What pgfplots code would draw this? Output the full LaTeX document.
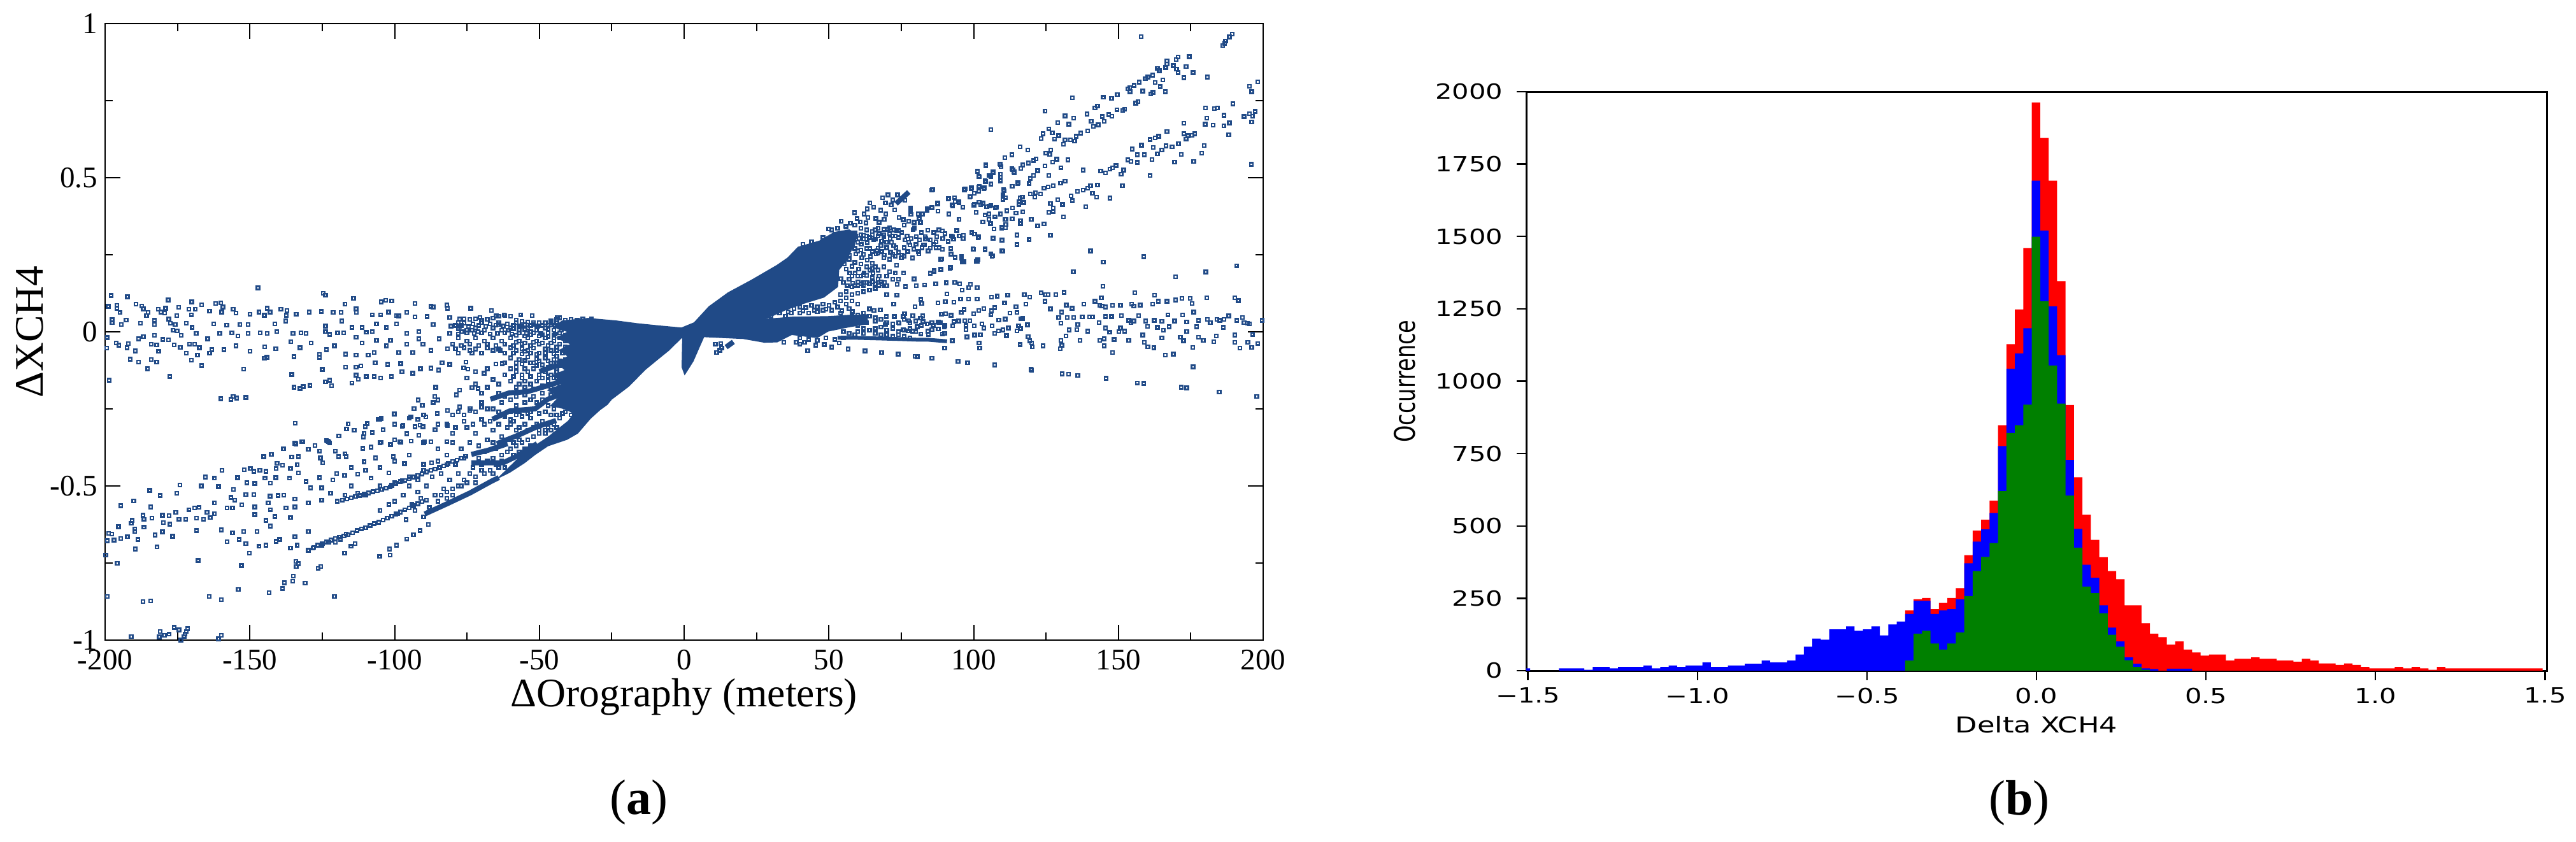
\documentclass[border=0pt]{standalone}
\usepackage{graphicx}
\usepackage{fontspec}
\usepackage{pgfplots}
\pgfplotsset{compat=1.18}
\newfontfamily\lib{Liberation Serif}
\newfontfamily\dv{DejaVu Sans}
\definecolor{pts}{RGB}{32,74,135}
\definecolor{hgreen}{RGB}{0,128,0}
\newcommand\sx[1]{\scalebox{1.27}[1]{\dv\fontsize{8.2}{8.2}\selectfont #1}}
\begin{document}
\begin{tikzpicture}
\path[use as bounding box] (0pt,0pt) rectangle (1011pt,330.25pt);
\begin{axis}[
  at={(41.25pt,79pt)}, anchor=south west, scale only axis, width=454.5pt, height=242.1pt,
  xmin=-200, xmax=200, ymin=-1, ymax=1,
  xtick={-200,-150,-100,-50,0,50,100,150,200},
  xticklabels={-200,-150,-100,-50,0,50,100,150,200},
  ytick={-1,-0.5,0,0.5,1},
  yticklabels={-1,-0.5,0,0.5,1},
  minor x tick num=1, minor y tick num=1,
  tick align=inside, major tick length=6pt, minor tick length=3.1pt,
  tick style={black,line width=0.5pt}, axis line style={black,line width=0.5pt},
  tick label style={font=\lib\fontsize{11.75}{11.75}\selectfont},
  xticklabel style={inner ysep=0pt,yshift=-3.5pt},
  yticklabel style={inner xsep=0pt,xshift=-2.75pt},
  xlabel={ΔOrography (meters)}, ylabel={ΔXCH4},
  every axis x label/.style={at={(axis description cs:0.5,-0.0925)},anchor=center,font=\lib\fontsize{15.9}{15.9}\selectfont},
  every axis y label/.style={at={(axis description cs:-0.065,0.5)},anchor=center,rotate=90,font=\lib\fontsize{15.9}{15.9}\selectfont},
]
% dense wedges outlined from the picture
\addplot[fill=pts,draw=pts,line width=0.4pt] coordinates {(-42,.035)(-33.2,.043)(-23.6,.035)(-16.3,.026)(-9,.019)(-.9,.012)(-.9,-.019)(-5.3,-.06)(-9,-.088)(-13.4,-.122)(-19.2,-.177)(-25.1,-.219)(-26.6,-.236)(-29.1,-.253)(-32.4,-.281)(-36.8,-.329)(-40.5,-.349)(-47.1,-.37)(-51.5,-.398)(-55.2,-.425)(-60.3,-.456)(-64,-.473)(-60.3,-.439)(-56.6,-.405)(-51.5,-.37)(-47.1,-.343)(-44,-.32)(-40,-.29)(-38,-.265)(-41,-.25)(-46,-.24)(-43,-.21)(-47,-.19)(-42,-.17)(-45,-.14)(-41,-.125)(-44,-.1)(-40,-.08)(-43,-.06)(-39,-.04)(-44,-.02)(-40,0)(-45,.015)} -- cycle;
\addplot[fill=pts,draw=pts,line width=0.4pt] coordinates {(-.5,-.019)(-.7,-.115)(.2,-.138)(1.3,-.122)(3.1,-.095)(5,-.054)(6.8,-.016)} -- cycle;
\addplot[fill=pts,draw=pts,line width=0.4pt] coordinates {(-.9,.012)(3.5,.029)(8.6,.081)(15.2,.126)(23.3,.167)(32.1,.215)(35.8,.239)(39.4,.274)(46.8,.294)(51.9,.322)(57,.33)(60,.315)(58,.27)(56,.23)(53.4,.201)(53,.146)(48.2,.112)(40.9,.091)(35,.071)(27.7,.04)(27.7,-.034)(20.4,-.022)(6.8,-.016)(-.9,-.019)} -- cycle;
\addplot[fill=pts,draw=pts,line width=0.4pt] coordinates {(27.7,.04)(37.2,.047)(49.7,.049)(57,.053)(63,.055)(63.5,.026)(57,.016)(49.7,.002)(46,-.019)(37.2,-.009)(32.1,-.033)(27.7,-.034)} -- cycle;
% streaks
\addplot[pts,line width=1.5pt] coordinates {(53,-.02)(60,-.02)(68,-.022)(75,-.024)(81,-.026)(84.2,-.026)(90.8,-.031)};
\addplot[pts,line width=2pt] coordinates {(73.2,.415)(77.6,.453)};
\addplot[pts,line width=2pt] coordinates {(14.5,-.05)(17,-.033)};
\addplot[pts,line width=2pt] coordinates {(-64,-.473)(-66.4,-.484)(-74,-.523)(-81.9,-.558)(-89.6,-.591)};
\addplot[pts,line width=2pt] coordinates {(-66.9,-.219)(-60.3,-.198)(-54.4,-.195)(-47.8,-.177)(-41.2,-.157)(-36.8,-.143)};
\addplot[pts,line width=2pt] coordinates {(-66.2,-.284)(-60.3,-.257)(-51.5,-.25)(-47.1,-.219)(-41.2,-.198)};
\addplot[pts,line width=2pt] coordinates {(-64.7,-.363)(-57.4,-.336)(-50.8,-.308)(-44.2,-.288)};
\addplot[pts,line width=2pt] coordinates {(-73.5,-.398)(-67.6,-.384)(-61,-.363)};
\addplot[pts,line width=2pt] coordinates {(-73.5,-.425)(-62.5,-.425)(-58.1,-.405)(-50.8,-.363)};
\addplot[pts,line width=2pt] coordinates {(-50,-.129)(-45.6,-.115)(-40.5,-.102)};
% scattered points
\addplot[only marks,mark=square,mark size=0.62pt,mark options={pts,line width=0.6pt}] coordinates {
(157.8,.957)(186,.928)(186.7,.935)(187,.942)(188.3,.956)(189.3,.965)(170.6,.891)(174.5,.892)(170,.882)(166.8,.878)(166.8,.868)(169,.863)(173.4,.86)(163.5,.854)(164.1,.846)(166.3,.857)(170.1,.852)(170.6,.84)(175.8,.84)(172.6,.824)(180.8,.826)(161.8,.832)(160.2,.826)(159.3,.82)(165.3,.816)(162.7,.808)(157.2,.809)(155.4,.799)(153.9,.792)(153.3,.787)(164.4,.795)(158.4,.78)(166.2,.778)(161.9,.776)(161.2,.771)(149.6,.769)(154,.778)(144.8,.76)(134.1,.759)(147.6,.757)(156.8,.746)(156,.741)(142.8,.732)(141.9,.725)(152.1,.722)(151.5,.717)(149.5,.72)(124.7,.715)(139.2,.706)(146.6,.704)(147.7,.699)(144.4,.698)(131.6,.7)(134.5,.693)(140.6,.682)(145.1,.682)(129,.678)(132.9,.673)(143,.671)(141.3,.666)(105.9,.655)(139.4,.651)(125.9,.658)(137,.644)(135.4,.634)(124,.642)(127.2,.645)(129.4,.636)(123.3,.626)(128,.625)(131.6,.622)(133.4,.622)(134.9,.618)(131,.608)(116.1,.599)(118.7,.589)(113.2,.574)(110.8,.564)(126.6,.589)(125,.579)(126.3,.575)(128.7,.559)(127.3,.55)(121.5,.56)(120.7,.555)(118.9,.547)(117,.541)(132.5,.557)(124.6,.538)(130.2,.532)(104.2,.539)(109.2,.542)(116.3,.529)(113.5,.525)(122.1,.522)(101.3,.519)(106.7,.516)(114.1,.516)(120.7,.507)(125.9,.507)(119.6,.497)(109.2,.511)(101.9,.502)(105.9,.502)(109.2,.489)(104.1,.487)(131.6,.488)(130,.482)(127.5,.474)(125.8,.47)(124.3,.465)(115.2,.481)(119.2,.481)(106,.478)(101.9,.469)(103.5,.464)(96.8,.46)(85.6,.459)(99.1,.463)(110.5,.457)(123.1,.447)(121.4,.451)(119.6,.447)(121.1,.436)(98.7,.437)(110.1,.439)(91.2,.43)(116.7,.437)(115.7,.421)(117.3,.419)(93.6,.422)(95,.419)(87.6,.415)(92.8,.408)(100.1,.41)(102.4,.412)(107.5,.401)(104.5,.405)(105.9,.41)(126.5,.416)(129,.428)(130.7,.413)(127.5,.401)(127.5,.39)(126,.387)(134.1,.425)(133.7,.441)(135.9,.455)(137.9,.459)(139.4,.465)(140.4,.474)(142.8,.476)(141,.449)(142.5,.436)(147.1,.433)(138.7,.406)(131,.372)(126.5,.312)(151.4,.474)(137.8,.524)(143.9,.521)(145.5,.515)(147.1,.527)(148,.531)(149.2,.539)(150.9,.511)(151.8,.524)(153.2,.557)(154.3,.552)(156.5,.574)(154.8,.592)(156.5,.549)(159,.574)(158,.605)(161.6,.558)(160.9,.506)(162.1,.598)(163.5,.577)(165,.589)(166.5,.603)(168.5,.599)(170.7,.61)(171.7,.575)(169.4,.55)(176,.552)(178.8,.579)(179.6,.604)(173.4,.625)(175.5,.637)(176.4,.642)(172.6,.642)(174,.636)(166.8,.649)(163.9,.634)(162.7,.628)(161,.623)(172.6,.676)(188.1,.639)(180,.673)(182.7,.67)(186.4,.668)(188.3,.677)(180.5,.693)(186.5,.702)(180.1,.725)(183.1,.723)(184.2,.726)(189.5,.739)(195.3,.707)(197.2,.714)(193.4,.698)(196.3,.699)(196,.68)(195.9,.543)(195.3,.796)(196,.778)(198.1,.81)
(140.4,.262)(158.7,.243)(144.8,.226)(190.8,.214)(134.4,.195)(180.2,.194)(169.7,.178)(144.7,.147)(106,.253)(106.4,.244)(110,.261)(99.9,.267)(104,.266)(96,.226)(101.2,.229)(91.9,.205)(88.7,.202)(86.4,.196)(85,.189)(75.8,.19)(79.4,.17)(88.7,.235)(93.6,.242)(92.2,.25)(95.8,.239)(114.9,.313)(119.2,.299)(114.9,.281)(109.8,.296)(106.7,.303)(101.6,.304)
(70.4,.444)(73.7,.444)(68.5,.434)(64.2,.418)(72.1,.427)(69.5,.418)(71.5,.411)(65.5,.404)(63.2,.398)(72.7,.395)(58.8,.386)(62.2,.382)(67.9,.394)(69.6,.382)(59.7,.367)(63.5,.37)(66.2,.367)(69.1,.364)(54.3,.358)(57.4,.352)(60.9,.356)(62.8,.353)(49.9,.333)(55.9,.342)(67.3,.355)(74.3,.37)(75.7,.363)(77.6,.358)(79.4,.355)(81.6,.355)(81.2,.367)(82.3,.382)(80.9,.382)(78.3,.38)(78.2,.4)(76.3,.426)(84,.398)(85.6,.402)(87.6,.417)(85.8,.461)(91.3,.432)(93.4,.435)(94.8,.422)(92.6,.411)(96.3,.404)(97,.463)(99.2,.466)(102,.472)(103.6,.466)(105.9,.48)(104.2,.541)(101.3,.521)(101.8,.504)(104,.489)(105.4,.506)(106.7,.519)(109.1,.544)(109.5,.535)(109.3,.511)(109.3,.501)(109.3,.491)(113.2,.528)(114,.518)(115.3,.483)(113.3,.472)(110.4,.461)(110.1,.444)(111,.435)(110.1,.429)(116.1,.433)(117,.437)(115.6,.413)(117.3,.42)(105.4,.408)(107.8,.404)(103.2,.417)(101.9,.42)(100.2,.413)(98.8,.439)(101.8,.456)(100.2,.449)(111.4,.392)(109.3,.382)(113.4,.401)(114.6,.385)(117,.389)(107.4,.373)(104,.378)(105.3,.364)(105.8,.351)(103.2,.356)(113.3,.366)(110.9,.364)(111.1,.348)(111,.337)(109.8,.338)(116.2,.36)(116.2,.351)(107,.333)(115,.315)(101.8,.307)(100.3,.317)(106.6,.304)(109.8,.298)(115,.283)(119.2,.3)(104,.268)(99.8,.268)(109.8,.262)(106,.252)(106.5,.246)(101.4,.234)(101,.228)(96.6,.227)(95.8,.243)(93.6,.24)(92.2,.252)(92.1,.27)(88.9,.236)(92,.208)(88.7,.203)(86.4,.199)(85,.191)(75.8,.191)(79.4,.172)
(78.2,.396)(84,.393)(87.7,.391)(91.4,.382)(95,.364)(100.9,.387)(105.3,.382)(111.1,.364)(116.3,.352)(119.9,.364)(124.3,.35)(122.1,.343)(109.7,.336)(99.4,.322)(96.5,.313)(92.8,.308)(89.2,.327)(86.2,.322)(83.3,.308)(79.6,.336)(76,.345)(73.4,.327)(77.5,.29)(82.6,.281)(87,.272)(89.2,.267)(81.1,.253)(76,.244)(73.4,.216)(78.9,.239)(70.1,.272)(66.5,.262)(71.6,.29)
(55.2,.29)(57.3,.305)(58.1,.28)(60.4,.302)(61.2,.283)(62,.312)(63.3,.289)(64.1,.27)(65.4,.298)(66,.33)(67.3,.318)(68.2,.294)(69,.309)(70.3,.332)(71.2,.302)(72.4,.28)(73,.311)(74.1,.328)(75.2,.322)(76.3,.298)(77,.31)(78.4,.302)(79.1,.331)(80.2,.309)(81.3,.298)(82,.322)(83.4,.301)(84.2,.329)(85.1,.298)(86.3,.322)(87.2,.308)(88,.33)(89.3,.302)(90.1,.318)(91.2,.293)(92.3,.311)(93.1,.3)(94.2,.328)(95,.31)(96.4,.302)
(56.2,.26)(57.1,.248)(59.3,.253)(60,.262)(61.4,.24)(62,.251)(63.2,.232)(64.3,.243)(65,.222)(66.3,.252)(67,.271)(68.2,.26)(69.1,.249)(70,.272)(71.3,.258)(72,.251)(73.2,.272)(74.1,.258)(75.3,.249)(76,.272)(77.2,.26)(78,.281)(79.3,.268)(80.1,.283)(81,.26)(82.2,.272)(83.1,.281)(84.3,.262)(85,.271)(86.2,.283)(87,.292)(88.1,.272)
(55.3,.22)(56,.203)(57.2,.19)(58,.212)(59.1,.19)(60.3,.203)(61,.18)(62.2,.19)(63,.182)(64.1,.2)(65.2,.19)(66,.21)(67.3,.18)(68,.162)(69.2,.16)(54.1,.172)(55,.16)(56.3,.15)(57,.17)(58.2,.158)(59,.15)(60.1,.162)(61.3,.155)(62,.15)(63.2,.16)(64,.155)(65.1,.162)(66,.155)(67.2,.15)(68.3,.155)(69,.15)
(41,.284)(44,.292)(48,.305)(51,.33)(53,.335)(56,.34)(59,.345)(61,.335)(63,.33)(65,.325)(67,.335)(69,.332)(71,.336)(72.5,.33)(59,.32)(61,.315)(63,.31)(65,.315)(67,.31)(69,.315)(71,.318)(60,.29)(62,.3)(64,.305)(66,.3)(68,.28)(70,.29)(72,.31)(74,.305)(59,.27)(61,.265)(63,.27)(65,.26)(67,.255)(69,.24)(71,.235)(73,.245)(75,.24)(57,.235)(59,.225)(61,.22)(63,.21)(65,.205)(67,.2)(69,.21)(71,.195)(73,.19)
(38,.075)(40,.08)(42,.078)(44,.085)(46,.08)(48,.09)(50,.085)(52,.095)(54,.1)(56,.11)(58,.12)(60,.125)(62,.13)(64,.135)(36,.065)(41,.068)(45,.07)(49,.073)(53,.08)(62,.05)(63,.03)(66,.035)(58,.03)(60,.02)(62,.01)(40,-.02)(43,-.025)(46,-.028)(49,-.02)(52,-.025)(55,-.02)
(30,.05)(33,.06)(35,.05)(37,.06)(40,.06)(43,.06)(46,.065)(48,.07)(51,.07)(54,.06)(57,.075)(60,.09)(56,.09)(58,.1)(54,.12)(56,.13)(58,.145)(60,.15)(62,.16)(62,.185)(60,.18)(58,.18)(65,.175)(67,.17)(70,.18)(72,.17)(74,.17)(66,.14)(70,.12)
(58,.05)(60,.055)(62,.06)(64,.05)(66,.045)(68,.04)(70,.03)(72,.025)(74,.03)(76,.04)(78,.03)(80,.035)(82,.02)(84,.025)(86,.02)(88,.03)(90,.02)(66,.01)(68,.015)(70,.005)(72,.01)(74,0)(76,.005)(78,.01)(80,0)(60,0)(62,-.005)(64,.005)(66,-.005)(68,-.01)(70,-.01)(72,-.015)(74,-.01)(76,-.015)(78,-.02)(55,0)(57,-.005)(59,-.01)
(90.6,.159)(93.5,.16)(95.2,.156)(98.9,.153)(101.2,.143)(98.3,.143)(96,.135)(86.9,.155)(83.1,.152)(80.2,.149)(76.5,.146)(73.6,.154)(70,.149)(73.5,.119)(90.8,.123)(81.7,.105)(82.1,.091)(90.2,.098)(87.7,.094)(93.2,.096)(95.5,.106)(98.2,.106)(101.2,.106)(106.2,.112)(108.2,.115)(111.8,.119)(117.5,.121)(119.4,.112)(110.7,.093)(118,.09)(107.3,.078)(114.6,.081)(115,.062)(112.5,.061)(103.5,.075)(101.8,.069)(100,.059)(96.7,.072)(95.7,.062)(106.2,.068)(106,.055)(90.3,.059)(88.9,.057)(92.2,.053)(79.8,.081)(72.4,.09)(67.8,.071)(65.6,.069)(64,.074)(58.1,.066)(54.5,.068)(76.1,.058)(79,.052)(75.7,.049)(72.6,.049)(69.8,.049)(81.6,.044)(82.4,.051)(82.5,.033)(77.6,.036)(85.6,.029)(87.8,.031)(88.6,.029)(93.2,.033)(94.8,.035)(96.9,.036)(98.7,.036)(100.2,.019)(102.9,.025)(103.5,.012)(97.4,.02)(97.4,.007)(92.8,.019)(89.9,.016)(87.8,.009)(85.6,.007)(84.2,.002)(80.5,.016)(79,.002)(77.4,.003)(75.7,.007)(74.3,.027)(72.1,.026)(69.5,.024)(106.4,.019)(108.7,.038)(110.9,.041)(112,.012)(110.1,.006)(108.6,.003)(107.3,-.006)(115.5,.019)(116.2,.01)(115,.003)(111.3,-.013)(116.4,.042)(117,.043)(118.6,.022)(118.8,-.016)(119.4,-.029)(116,-.04)(102.3,-.01)(100.3,-.011)(97.7,-.017)(90,-.005)(89.2,-.007)(81.8,-.007)(84.4,-.009)(92.6,-.029)(101.9,-.036)(102.1,-.053)(90,-.053)(85.6,-.086)(79.8,-.08)(80.5,-.081)(73.9,-.073)(68.2,-.068)(62.5,-.062)(56.7,-.056)(51,-.05)(48.4,-.042)(45.5,-.044)(42.7,-.061)(53.6,-.036)(40,-.04)(41.6,-.035)(38.7,-.034)(34.4,-.034)(94.6,-.096)(97.9,-.1)(107.3,-.108)(119.8,-.122)
(10.8,-.04)(12.7,-.038)(11.2,-.067)(12.3,-.06)(13,-.053)
(190.2,.11)(191.4,.101)(180.5,.11)(174.8,.108)(171.9,.108)(169.7,.103)(166.8,.099)(163.8,.099)(162.5,.118)(155.6,.127)(161.8,.089)(154.6,.09)(157.5,.086)(155.3,.083)(175.5,.092)(150.7,.085)(148,.085)(145.5,.08)(144.1,.11)(144.3,.083)(141.9,.099)(138,.089)(132,.086)(134,.076)(143.6,.085)(131.2,.128)(125.8,.12)(128.4,.12)(123.3,.126)(124.7,.12)(124.6,.099)(176,.064)(172.2,.054)(167.1,.055)(188.1,.051)(192.8,.046)(157,.052)(151,.052)(147.6,.049)(145.5,.049)(140,.048)(141,.048)(137.5,.048)(134.6,.046)(132.3,.046)(129.4,.046)(126.5,.074)(130.4,.064)(199.7,.037)(190.9,.037)(186.5,.04)(185,.037)(184,.04)(180.7,.04)(177.7,.037)(173.6,.032)(169.4,.035)(165,.034)(162.4,.037)(159.4,.035)(155.3,.035)(153.6,.037)(143.3,.029)(136,.023)(130.1,.028)(181.7,.029)(194.6,.028)(195.3,.026)(193.4,.029)(154.3,.029)(186.2,.014)(177,.016)(163.5,.014)(167.5,.016)(165.5,.005)(173.6,.001)(160,.017)(152.1,.002)(150.2,0)(147,-.002)(145.5,.012)(150.7,.012)(135.7,.007)(133,.006)(139.4,.002)(171.4,-.018)(165,-.02)(158.4,-.011)(153.6,-.028)(148.5,-.025)(145.1,-.023)(143.6,-.028)(136.8,-.028)(131.9,-.014)(130.2,-.028)(177.7,-.018)(183.8,-.014)(179.3,-.028)(172.5,-.029)(182.9,-.032)(190.2,-.011)(190.2,-.035)(194.7,-.035)(198.1,-.038)(196.3,-.009)(192,-.053)(196,-.051)(175.7,-.051)(159,-.034)(160.2,-.049)(162.2,-.052)(145.1,-.046)(148,-.067)(166.2,-.076)(169,-.073)(175.8,-.114)(156.5,-.166)(158.7,-.168)(145.7,-.151)(136,-.142)(132.8,-.138)(130.6,-.137)(120,-.124)(171.7,-.18)(173.6,-.182)(184.8,-.195)(197.8,-.21)(120,-.037)(120.3,-.049)(124,-.046)(129.9,-.055)(130.5,-.044)(116,-.042)
(-197.9,.117)(-192.3,.113)(-147.2,.142)(-124.6,.124)(-123.9,.118)(-114.2,.108)(-103.1,.102)(-101,.1)(-104.6,.097)(-117.1,.09)(-93,.091)(-87.5,.082)(-82,.086)(-73.7,.076)(-66.6,.069)(-81.7,.076)(-86.7,.08)(-160,.094)(-161.8,.091)(-170.1,.097)(-178.2,.103)(-166.7,.087)(-189.3,.09)(-198.9,.082)(-195.9,.085)(-187.4,.083)(-174.6,.079)(-179.1,.076)(-181.6,.073)(-186.8,.074)(-195.9,.076)(-171.1,.073)(-168.8,.073)(-163.9,.067)(-159.3,.08)(-155.8,.073)(-144,.076)(-139.3,.073)(-137.2,.069)(-129.5,.064)(-125.3,.066)(-121.2,.063)(-118.5,.063)(-113.3,.074)(-113.2,.063)(-102.1,.064)(-95.8,.063)(-146.8,.064)(-143,.064)(-150,.057)(-154.8,.06)(-159.7,.064)(-170.2,.055)(-175.3,.052)(-179.4,.06)(-180.8,.064)(-185.1,.063)(-194.9,.062)(-185.7,.052)(-134,.057)(-137.4,.053)(-145,.053)(-107.7,.055)(-104.9,.055)(-99.3,.052)(-98.6,.051)(-93,.048)(-88.8,.049)(-81,.046)(-77.5,.041)(-70.5,.046)(-62.1,.055)(-56.5,.055)(-52.5,.052)(-64.9,.051)(-43.8,.046)
(-197.6,.039)(-192.7,.038)(-182.9,.037)(-178,.041)(-177.5,.028)(-175.8,.023)(-171.9,.028)(-169.9,.014)(-162.5,.026)(-158,.021)(-153.4,.023)(-150.6,.023)(-141.4,.025)(-137.6,.035)(-118.3,.035)(-123.9,.018)(-114.8,.014)(-111.2,.014)(-106.3,.026)(-107.7,0)(-99.3,.026)(-91.6,0)(-86.7,.023)(-77.5,.018)(-73.3,.005)(-64.2,.023)(-187.8,.027)(-194.4,.023)(-182.9,.023)(-197.6,.029)(-176.5,.005)(-175.1,.003)(-173.7,-.012)(-168.5,-.006)(-164.6,-.023)(-160.4,-.006)(-156.2,-.003)(-154.1,-.014)(-150.6,-.006)(-146.4,-.003)(-144,-.006)(-140.7,0)(-135.1,-.006)(-132.3,-.003)(-130.6,-.005)(-123.9,0)(-122.5,-.009)(-119.7,-.003)(-117.6,-.003)(-113.3,-.018)(-109.8,-.002)(-102.8,.014)(-106.3,-.028)(-101.4,-.028)(-95.8,-.005)(-91.6,-.023)(-84.6,-.023)(-76.8,0)(-71.2,0)(-60.7,.005)
(-199.3,-.019)(-188.5,-.023)(-186.8,-.016)(-182.9,-.012)(-180.1,-.025)(-178.1,-.026)(-196.2,-.037)(-192,-.039)(-195.2,-.044)(-184,-.041)(-182.2,-.043)(-192.4,-.052)(-199.4,-.053)(-176.1,-.043)(-174,-.051)(-170.9,-.04)(-169.1,-.041)(-167.4,-.052)(-163.2,-.058)(-159,-.058)(-154.8,-.046)(-149.9,-.063)(-144.9,-.049)(-141,-.055)(-135.8,-.032)(-132.7,-.052)(-128.8,-.037)(-123.5,-.058)(-120.8,-.046)(-116.9,-.072)(-111.2,-.037)(-107,-.067)(-102.8,-.046)(-98.6,-.067)(-95.8,-.041)(-93.7,-.067)(-90.2,-.041)(-87.4,-.06)(-81.7,-.055)(-73.3,-.069)(-63.5,-.06)(-55,-.064)(-189.6,-.062)(-181.5,-.064)(-171.9,-.069)(-168.1,-.076)(-163.9,-.069)(-191.3,-.089)(-188.5,-.099)(-184,-.09)(-182.2,-.098)(-170.2,-.092)(-185.3,-.12)(-166.7,-.11)(-152.1,-.121)(-177.7,-.145)(-198.6,-.157)(-145,-.086)(-144.1,-.083)(-134.8,-.081)(-126,-.074)(-126,-.083)(-116.9,-.074)(-113.3,-.076)(-109.1,-.076)(-102.4,-.106)(-106.7,-.101)(-97.9,-.104)(-91.1,-.12)(-87.4,-.118)(-84.8,-.124)(-83.6,-.101)(-81,-.106)(-75.4,-.099)(-76.1,-.117)(-74.7,-.121)(-69.1,-.135)(-62.8,-.104)(-55,-.092)(-125,-.122)(-135.5,-.139)(-113.3,-.141)(-116.9,-.115)(-113.3,-.115)(-111.7,-.111)(-109.8,-.145)(-107,-.145)(-104.9,-.15)(-101.1,-.145)(-97.5,-.129)(-93.7,-.135)(-112.6,-.154)(-114.8,-.166)(-122.5,-.157)(-123.9,-.163)(-121.8,-.175)(-134.7,-.18)(-131.6,-.178)(-129.2,-.174)(-132.7,-.184)(-160,-.217)(-156.5,-.219)(-155.8,-.21)(-154.5,-.215)(-151.4,-.213)
(-85.8,-.18)(-77.5,-.189)(-73.3,-.181)(-71.2,-.184)(-78.7,-.205)(-86.2,-.21)(-85,-.221)(-86.7,-.23)(-90.4,-.239)(-91.9,-.221)(-93.3,-.249)(-85.2,-.265)(-81.7,-.256)(-77.5,-.244)(-73.9,-.249)(-100.1,-.267)(-94.4,-.276)(-89.2,-.276)(-92,-.285)(-104.6,-.281)(-105.6,-.285)(-109.4,-.297)(-110.1,-.308)(-116,-.299)(-134.3,-.297)(-116.6,-.315)(-114,-.32)(-110.8,-.341)(-107.7,-.327)(-119.2,-.338)(-97.2,-.304)(-93,-.308)(-90.2,-.308)(-86,-.318)(-81.7,-.304)(-95.8,-.331)(-91.6,-.336)(-87.4,-.357)(-131.7,-.357)(-134.1,-.364)(-123.2,-.355)(-122.5,-.361)(-104.6,-.359)(-101.4,-.366)(-97.9,-.359)
(-109.4,-.298)(-105.1,-.285)(-104,-.318)(-110.5,-.33)(-107.7,-.328)(-119.3,-.338)(-97.4,-.307)(-91.2,-.303)(-134.4,-.362)(-132.1,-.356)(-127.5,-.369)(-123.6,-.353)(-122.8,-.356)(-145.2,-.405)(-142.6,-.398)(-138.4,-.38)(-125.9,-.387)(-120.5,-.387)(-117.1,-.396)(-133.2,-.405)(-135.5,-.406)(-129.8,-.382)(-111,-.378)(-108.2,-.374)(-105.1,-.36)(-98.1,-.356)(-94.3,-.354)(-89.7,-.356)(-81.9,-.356)(-140.6,-.427)(-138.7,-.433)(-133.6,-.431)(-140.9,-.444)(-136,-.444)(-125.6,-.409)(-124.8,-.425)(-119.4,-.405)(-116.7,-.405)(-110.5,-.422)(-106.6,-.409)(-100.5,-.405)(-96.6,-.428)(-87.3,-.425)(-81.9,-.431)(-151.9,-.448)(-149.8,-.444)(-144.4,-.453)(-144.8,-.475)(-148.6,-.453)(-146.5,-.45)(-159.6,-.45)(-165.3,-.471)(-162.2,-.475)(-154.2,-.473)(-151.1,-.49)(-148.3,-.492)(-141,-.473)(-142.9,-.491)(-136.3,-.475)(-133.2,-.458)(-130.6,-.486)(-125.9,-.473)(-121.3,-.481)(-117.3,-.466)(-112.8,-.462)(-108.2,-.475)(-102,-.458)(-97.4,-.484)(-92,-.48)(-166.8,-.5)(-160.8,-.502)(-174.1,-.497)(-155.7,-.511)(-184.6,-.515)(-181,-.531)(-175.2,-.524)(-190.1,-.549)(-194.6,-.564)(-184.3,-.568)(-156.5,-.537)(-155.2,-.546)(-151.4,-.528)(-148.6,-.528)(-143,-.533)(-140.3,-.531)(-138.3,-.53)(-143.7,-.555)(-162.2,-.555)(-157.9,-.572)(-156,-.572)(-152.8,-.561)(-148.3,-.568)(-142.9,-.577)(-148.3,-.593)(-137.5,-.572)(-134.4,-.568)(-129.8,-.555)(-134.4,-.542)(-129,-.506)(-125.2,-.506)(-122.1,-.524)(-117.1,-.53)(-112.8,-.524)(-125.2,-.546)(-119.8,-.55)(-167.6,-.57)(-169.1,-.572)(-171,-.577)(-175.6,-.586)(-180.2,-.595)(-186.9,-.595)(-177.9,-.596)(-183.8,-.605)(-186.6,-.608)(-190.6,-.612)(-191,-.621)(-164.8,-.586)(-162.2,-.59)(-168.4,-.605)(-163.7,-.603)(-166,-.608)(-172.2,-.608)(-174.5,-.608)(-179.9,-.619)(-177.6,-.624)(-195.4,-.632)(-186.6,-.634)(-189.7,-.639)(-168.4,-.645)(-180.2,-.649)(-182.7,-.659)(-176.7,-.663)(-189.7,-.648)(-198.8,-.654)(-197.7,-.656)(-199.2,-.678)(-196.9,-.676)(-194.6,-.67)(-192.3,-.665)(-188.7,-.674)(-182.1,-.698)(-189.5,-.705)(-199.8,-.724)(-195.8,-.751)(-167.9,-.742)(-159.9,-.643)(-156,-.652)(-153.7,-.674)(-157.9,-.681)(-151.4,-.687)(-150.2,-.718)(-152.9,-.758)(-146.8,-.696)(-144.4,-.692)(-140.9,-.68)(-139.7,-.674)(-152.2,-.648)(-147.5,-.648)(-142.9,-.63)(-144.4,-.612)(-141.4,-.599)(-136,-.603)(-136,-.701)(-133.6,-.692)(-134.4,-.665)(-129.8,-.648)(-129.8,-.709)(-128.2,-.701)(-125.2,-.692)(-122.8,-.683)(-120.5,-.683)(-118.7,-.674)(-116.7,-.656)(-113.6,-.687)(-115.1,-.696)(-117.3,-.718)(-105.2,-.729)(-101.5,-.724)(-101.7,-.705)(-99.4,-.692)(-95.8,-.672)(-93.5,-.658)(-91.2,-.645)(-88.4,-.625)(-134.1,-.745)(-133.2,-.752)(-134,-.762)(-126.4,-.767)(-125.5,-.761)(-135,-.792)(-138.1,-.814)(-135.2,-.809)(-130.9,-.815)(-138.7,-.833)(-143.4,-.846)(-154,-.836)(-164,-.858)(-159.9,-.869)(-199.2,-.858)(-186.9,-.875)(-184.3,-.873)(-120.8,-.858)
(-176.1,-.959)(-174.5,-.967)(-171.5,-.963)(-171.9,-.972)(-172.4,-.981)(-181,-.972)(-179.5,-.984)(-177.9,-.981)(-181.3,-.99)(-191,-.989)(-173.8,-1)(-172.7,-.988)(-159.9,-.984)(-160.8,-.996)
(-79,.02)(-78,.03)(-76,.042)(-74,.04)(-72,.042)(-70,.038)(-68,.04)(-66,.044)(-64,.05)(-62,.052)(-60,.05)(-58,.038)(-56,.034)(-54,.032)(-52,.03)(-50,.03)(-48,.03)(-46,.035)(-44,.04)(-43,.045)(-41,.038)(-39,.04)(-37,.037)(-35,.042)(-32,.041)
(-78,.01)(-75,.005)(-72,.012)(-69,.005)(-66,.012)(-63,.005)(-60,.012)(-57,.005)(-54,.012)(-51,.005)(-48,.012)(-45,.005)(-43,.015)(-76,.028)(-73,.025)(-70,.03)(-67,.025)(-64,.03)(-61,.025)(-58,.03)(-55,.022)(-52,.024)(-49,.02)(-46,.022)
(-80.5,.018)(-77,.02)(-74.5,.016)(-71,.02)(-68.5,.017)(-65,.021)(-62.5,.018)(-59,.02)(-56.5,.017)(-53,.02)(-50.5,.018)(-47,.021)(-44.5,.02)(-81,-.005)(-78,-.007)(-75,-.004)(-72.5,-.006)(-70,-.003)(-67,-.007)(-64.5,-.005)(-62,-.003)(-59.5,-.007)(-57,-.004)(-54.5,-.006)(-52,-.003)(-49.5,-.006)(-47,-.004)(-44.5,-.007)(-43,-.004)
(-78,-.02)(-75,-.03)(-72,-.02)(-69,-.03)(-66,-.02)(-63,-.03)(-60,-.02)(-57,-.03)(-54,-.02)(-51,-.03)(-48,-.02)(-45,-.03)(-80,-.04)(-77,-.045)(-74,-.04)(-71,-.045)(-68,-.04)(-65,-.045)(-62,-.04)(-59,-.045)(-56,-.04)(-53,-.045)(-50,-.04)(-47,-.045)(-44,-.05)(-78,-.07)(-74,-.06)(-70,-.07)(-66,-.06)(-62,-.07)(-58,-.06)(-54,-.06)(-50,-.07)(-46,-.06)(-44,-.08)(-79,-.055)(-76,-.052)(-72,-.056)(-68,-.053)(-64,-.056)(-60,-.052)(-56,-.055)(-52,-.053)(-48,-.056)(-44,-.06)
(-60,-.085)(-57,-.09)(-54,-.082)(-51,-.088)(-48,-.085)(-45,-.09)(-43,-.095)(-56,-.105)(-52,-.1)(-49,-.108)(-46,-.102)(-43,-.11)
(-59,.01)(-57,.018)(-55,.008)(-53,0)(-51,.015)(-49,-.01)(-47,.008)(-45,-.012)(-42.5,.005)(-41,-.012)(-46,.03)(-44,.028)(-42,.025)(-58,-.012)(-55,-.014)(-53,-.01)(-50,-.014)(-47,-.015)(-45,-.02)(-43,-.02)(-41,-.03)(-58,-.035)(-55,-.036)(-52,-.034)(-49,-.036)(-46,-.036)(-43,-.04)(-41,-.05)(-59,-.07)(-56,-.072)(-53,-.07)(-51,-.074)(-48,-.07)(-45,-.072)(-42,-.07)(-58,-.1)(-55,-.095)(-53,-.1)(-50,-.095)(-47,-.095)(-44,-.1)(-41,-.09)(-58,-.115)(-55,-.12)(-51,-.11)(-47,-.115)(-44,-.12)(-41,-.11)(-59,-.145)(-56,-.15)(-53,-.145)(-50,-.15)(-47,-.145)(-44,-.15)(-41,-.15)(-58,-.18)(-55,-.18)(-52,-.185)(-49,-.175)(-46,-.18)(-44,-.185)(-41,-.18)(-64,-.2)(-62,-.21)(-58,-.21)(-55,-.205)(-52,-.21)(-49,-.2)(-46,-.205)(-43,-.21)
(-64,-.26)(-62,-.27)(-60,-.26)(-57,-.26)(-55,-.255)(-53,-.26)(-50,-.265)(-48,-.26)(-46,-.27)(-44,-.27)(-42,-.265)(-60,-.3)(-58,-.32)(-56,-.33)(-54,-.32)(-52,-.31)(-50,-.32)(-48,-.32)(-46,-.32)(-44,-.31)(-62,-.35)(-60,-.35)(-59,-.36)(-57,-.35)(-55,-.38)(-53,-.37)(-61,-.39)(-59,-.4)(-57,-.39)(-66,-.36)(-69,-.39)(-71,-.41)(-68,-.42)(-66,-.41)(-64,-.44)(-62,-.44)(-70,-.45)(-66,-.46)(-74,-.46)(-72,-.49)(-76,-.48)(-78,-.5)(-80,-.51)(-84,-.53)(-82,-.52)
(-60,-.12)(-58,-.13)(-56,-.14)(-54,-.13)(-52,-.12)(-50,-.14)(-48,-.13)(-46,-.14)(-44,-.13)(-42,-.14)(-60,-.16)(-57,-.17)(-55,-.16)(-53,-.17)(-51,-.16)(-49,-.15)(-47,-.16)(-45,-.15)(-43,-.17)
(-70,-.23)(-66,-.25)(-63,-.23)(-60,-.22)(-58,-.24)(-55,-.23)(-53,-.22)(-51,-.23)(-49,-.22)(-47,-.24)(-45,-.25)(-43,-.23)(-41,-.22)(-39,-.24)(-37,-.23)
(-75,-.31)(-72,-.33)(-69,-.3)(-66,-.32)(-63,-.34)(-61,-.31)(-59,-.29)(-57,-.31)(-55,-.3)(-53,-.28)(-51,-.3)(-49,-.29)(-47,-.31)(-45,-.3)(-43,-.28)(-41,-.26)(-39,-.27)(-37,-.26)(-80,-.36)(-77,-.38)(-74,-.36)(-71,-.37)(-68,-.35)(-65,-.38)(-63,-.4)(-60,-.38)(-58,-.37)(-56,-.36)(-54,-.35)(-52,-.34)(-50,-.33)(-48,-.33)(-85,-.42)(-82,-.4)(-79,-.43)(-76,-.41)(-73,-.44)(-70,-.43)(-67,-.45)(-65,-.43)(-63,-.42)(-90,-.45)(-87,-.47)(-84,-.46)(-81,-.48)(-78,-.46)(-75,-.49)(-72,-.47)(-69,-.46)(-95,-.5)(-92,-.52)(-89,-.5)(-86,-.53)(-83,-.51)(-80,-.53)(-77,-.5)(-100,-.55)(-97,-.53)(-94,-.56)(-91,-.54)(-88,-.57)(-85,-.55)(-82,-.54)(-105,-.58)(-102,-.56)(-99,-.59)(-96,-.61)(-93,-.58)(-90,-.6)
(-115,-.5)(-110,-.53)(-105,-.5)(-100,-.49)(-95,-.47)(-90,-.43)(-110,-.45)(-105,-.44)(-100,-.42)(-95,-.4)(-120,-.46)(-115,-.44)(-85,-.38)(-90,-.36)(-80,-.33)(-85,-.3)(-90,-.27)(-95,-.28)(-100,-.3)(-100,-.35)
(-128,-.699)(-126.5,-.692)(-125,-.687)(-123.5,-.682)(-122,-.676)(-120.5,-.671)(-119,-.667)(-117.5,-.662)(-116,-.658)(-114.5,-.652)(-113,-.645)(-111.5,-.639)(-110,-.635)(-108.5,-.628)(-107,-.622)(-105.5,-.618)(-104,-.611)(-102.5,-.604)(-101,-.598)(-99.5,-.591)(-98,-.585)(-96.5,-.577)(-95,-.571)(-93.5,-.564)(-92,-.558)(-90.5,-.551)(-89,-.546)
(-101,-.498)(-99.5,-.492)(-98,-.486)(-96.5,-.482)(-95,-.477)(-93.5,-.471)(-92,-.466)(-90.5,-.461)(-89,-.455)(-87.5,-.449)(-86,-.445)(-84.5,-.44)(-83,-.435)(-81.5,-.428)(-80,-.421)(-78.5,-.416)(-77,-.41)(-75.5,-.404)
(-118,-.546)(-116.5,-.542)(-115,-.538)(-113.5,-.534)(-112,-.531)(-110.5,-.527)(-109,-.523)(-107.5,-.519)(-106,-.516)(-104.5,-.512)(-103,-.507)(-101.5,-.503)
(-80,-.27)(-78,-.26)(-76,-.27)(-74,-.255)(-72,-.26)(-70,-.245)(-68,-.25)(-82,-.3)(-79,-.31)(-76,-.29)(-73,-.3)(-70,-.285)(-67,-.29)(-64,-.3)(-62,-.275)(-60,-.285)(-58,-.27)(-56,-.275)(-54,-.265)(-70,-.2)(-72,-.17)(-68,-.18)(-66,-.155)(-64,-.17)(-62,-.14)(-75,-.15)(-72,-.13)(-68,-.12)(-65,-.105)(-62,-.1)
};
\end{axis}
\begin{axis}[
  at={(599pt,67pt)}, anchor=south west, scale only axis, width=400.5pt, height=227.25pt,
  xmin=-1.505, xmax=1.505, ymin=0, ymax=2000,
  xtick={-1.5,-1,-0.5,0,0.5,1,1.5},
  xticklabels={\sx{−1.5},\sx{−1.0},\sx{−0.5},\sx{0.0},\sx{0.5},\sx{1.0},\sx{1.5}},
  ytick={0,250,500,750,1000,1250,1500,1750,2000},
  yticklabels={\sx{0},\sx{250},\sx{500},\sx{750},\sx{1000},\sx{1250},\sx{1500},\sx{1750},\sx{2000}},
  tick align=outside, tick pos=left, major tick length=3.75pt,
  tick style={black,line width=0.6pt}, axis line style={black,line width=0.75pt},
  xticklabel style={inner ysep=0pt,yshift=-2.75pt},
  yticklabel style={inner xsep=0pt,xshift=-5.25pt},
  xlabel={\scalebox{1.3}[1]{\dv\fontsize{8.6}{8.6}\selectfont Delta XCH4}},
  ylabel={\scalebox{1}[1.33]{\dv\fontsize{8.4}{8.4}\selectfont Occurrence}},
  every axis x label/.style={at={(axis description cs:0.5,-0.0935)},anchor=center},
  every axis y label/.style={at={(axis description cs:-0.119,0.5)},anchor=center,rotate=90},
]
\addplot[const plot,fill=red,draw=none] coordinates {
(-.3875,208)(-.3626,247)(-.3377,251)(-.3128,213)(-.2879,234)(-.263,251)(-.2381,285)(-.2132,399)(-.1883,484)(-.1634,522)(-.1385,587)(-.1136,848)(-.0887,1128)(-.0638,1248)(-.0389,1460)(-.014,1963)(.0109,1840)(.0358,1693)(.0607,1346)(.0856,918)(.1105,668)(.1354,539)(.1603,452)(.1852,392)(.2101,344)(.235,316)(.2599,226)(.2848,226)(.3097,164)(.3346,128)(.3595,116)(.3844,90)(.4093,101)(.4342,73)(.4591,63)(.484,52)(.5089,56)(.5338,56)(.5587,35)(.5836,41)(.6085,41)(.6334,46)(.6583,41)(.6832,41)(.7081,35)(.733,35)(.7579,31)(.7828,41)(.8077,35)(.8326,25)(.8575,25)(.8824,20)(.9073,25)(.9322,20)(.9571,13)(.982,8)(1.0069,8)(1.0318,8)(1.0567,13)(1.0816,8)(1.1065,13)(1.1314,8)(1.1563,3)(1.1812,13)(1.2061,8)(1.231,8)(1.2559,8)(1.2808,8)(1.3057,8)(1.3306,8)(1.3555,8)(1.3804,8)(1.4053,8)(1.4302,8)(1.4551,8)(1.48,8)(1.4927,8)} \closedcycle;
\addplot[const plot,fill=blue,draw=none] coordinates {
(-1.505,8)(-1.4935,8)} \closedcycle;
\addplot[const plot,fill=blue,draw=none] coordinates {
(-1.4084,8)(-1.3835,8)(-1.3586,8)(-1.3337,3)(-1.3088,13)(-1.2839,13)(-1.259,8)(-1.2341,13)(-1.2092,13)(-1.1843,13)(-1.1594,18)(-1.1345,8)(-1.1096,13)(-1.0847,18)(-1.0598,13)(-1.0349,18)(-1.01,18)(-.9851,29)(-.9602,13)(-.9353,13)(-.9104,18)(-.8855,18)(-.8606,24)(-.8357,24)(-.8108,35)(-.7859,29)(-.761,29)(-.7361,35)(-.7112,56)(-.6863,83)(-.6614,111)(-.6365,107)(-.6116,143)(-.5867,143)(-.5618,153)(-.5369,138)(-.512,143)(-.4871,153)(-.4622,122)(-.4373,160)(-.4124,170)(-.3875,196)(-.3626,241)(-.3377,241)(-.3128,196)(-.2879,208)(-.263,213)(-.2381,246)(-.2132,371)(-.1883,446)(-.1634,488)(-.1385,545)(-.1136,776)(-.0887,1043)(-.0638,1096)(-.0389,1183)(-.014,1693)(.0109,1520)(.0358,1259)(.0607,1090)(.0856,728)(.1105,490)(.1354,366)(.1603,321)(.1852,226)(.2101,149)(.235,101)(.2599,46)(.2848,24)(.3097,8)(.3346,6)(.3595,0)(.3844,7)(.4093,7)(.4342,7)(.4591,7)} \closedcycle;
\addplot[const plot,fill=hgreen,draw=none] coordinates {
(-.3875,35)(-.3626,128)(-.3377,138)(-.3128,94)(-.2879,73)(-.263,94)(-.2381,132)(-.2132,257)(-.1883,344)(-.1634,393)(-.1385,441)(-.1136,620)(-.0887,821)(-.0638,848)(-.0389,919)(-.014,1499)(.0109,1276)(.0358,1054)(.0607,923)(.0856,605)(.1105,425)(.1354,290)(.1603,268)(.1852,198)(.2101,124)(.235,83)(.2599,36)(.2848,13)(.3097,3)(.3346,3)} \closedcycle;
\end{axis}
\node at (250.75pt,15.25pt) {\lib\fontsize{19.5}{19.5}\selectfont (\textbf{a})};
\node at (792.5pt,15pt) {\lib\fontsize{19.5}{19.5}\selectfont (\textbf{b})};
\end{tikzpicture}
\end{document}
